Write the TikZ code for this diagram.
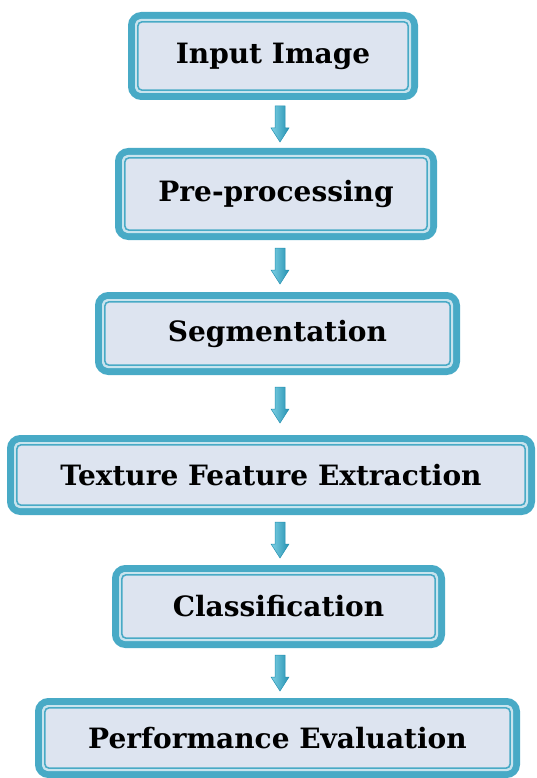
\documentclass[tikz,border=0pt]{standalone}
\usepackage{fontspec}
\setmainfont{DejaVu Serif}
\usetikzlibrary{calc}

\definecolor{rimteal}{RGB}{72,170,198}
\definecolor{rimlight}{RGB}{200,228,238}
\definecolor{boxfill}{RGB}{221,228,240}
\definecolor{arrowlight}{RGB}{125,208,228}
\definecolor{arrowdark}{RGB}{38,146,178}

\tikzset{
  stagebox/.style={rectangle, rounded corners=10pt, draw=rimteal, line width=7pt,
    fill=boxfill, inner sep=0pt, outer sep=0pt,
    font=\fontsize{28}{32}\selectfont\bfseries},
  innerrim/.style={draw=rimlight, line width=2pt, rounded corners=5pt},
  innerline/.style={draw=rimteal, line width=1.6pt, rounded corners=4pt},
  flowarrow/.style={left color=arrowlight, right color=arrowdark,
    draw=arrowdark, line width=0.5pt, line join=miter}
}

\begin{document}
\begin{tikzpicture}[x=1pt,y=-1pt]
  \useasboundingbox (0,0) rectangle (537,778);

  % processing stages, top to bottom
  \node[stagebox, minimum width=283pt, minimum height=81pt] (input)   at (273,56)      {Input Image};
  \node[stagebox, minimum width=315pt, minimum height=85pt] (prep)    at (276,194)     {Pre-processing};
  \node[stagebox, minimum width=358pt, minimum height=76pt] (seg)     at (277.5,333.5) {Segmentation};
  \node[stagebox, minimum width=521pt, minimum height=73pt] (texture) at (271,475)     {Texture Feature Extraction};
  \node[stagebox, minimum width=326pt, minimum height=76pt] (classif) at (278.5,606.5) {Classification};
  \node[stagebox, minimum width=478pt, minimum height=73pt] (perf)    at (277.5,738)   {Performance Evaluation};

  % double rim inside each stage box
  \foreach \n in {input,prep,seg,texture,classif,perf}{
    \draw[innerrim]  ([shift={(4.5pt,-4.5pt)}]\n.north west) rectangle ([shift={(-4.5pt,4.5pt)}]\n.south east);
    \draw[innerline] ([shift={(6.4pt,-6.4pt)}]\n.north west) rectangle ([shift={(-6.4pt,6.4pt)}]\n.south east);
  }

  % block arrows between consecutive stages, all on one vertical line
  \coordinate (axis) at (280,0);
  \foreach \a/\b [count=\i] in {input/prep, prep/seg, seg/texture, texture/classif, classif/perf}{
    \coordinate (c\i) at ($(\a.south)!0.5!(\b.north)$);
    \coordinate (m\i) at (axis |- c\i);
    \draw[flowarrow] ([shift={(-5pt,18pt)}]m\i) -- ([shift={(5pt,18pt)}]m\i)
      -- ([shift={(5pt,-4pt)}]m\i) -- ([shift={(9pt,-4pt)}]m\i)
      -- ([shift={(0pt,-18pt)}]m\i) -- ([shift={(-9pt,-4pt)}]m\i)
      -- ([shift={(-5pt,-4pt)}]m\i) -- cycle;
  }
\end{tikzpicture}
\end{document}
